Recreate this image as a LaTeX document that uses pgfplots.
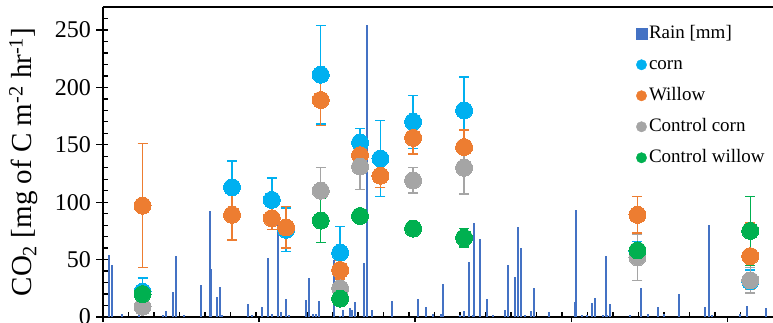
\documentclass[border=0pt]{standalone}
\usepackage{fontspec}
\setmainfont{Liberation Serif}
\usepackage{pgfplots}
\usepackage{pgfplotstable}
\pgfplotsset{compat=1.18}
\definecolor{rainc}{HTML}{4472C4}
\definecolor{cornc}{HTML}{00B0F0}
\definecolor{willc}{HTML}{ED7D31}
\definecolor{ccornc}{HTML}{A5A5A5}
\definecolor{cwillc}{HTML}{00B050}

\pgfplotstableread{
x y
1.12 54
1.76 45
3.78 2.5
7.12 2
11.76 2
12.35 5
13.78 21.4
14.31 53
15.82 1.5
19.22 27.8
21.04 92
21.27 41.4
22.35 17.4
22.94 26.5
23.24 1.5
28.43 11
29.27 1.5
31.18 8.7
32.41 51.8
33.04 3
34.37 88
34.84 4.6
35.84 16
36.47 1.5
39.80 14.7
40.39 33.6
41.24 3
41.76 3
42.41 13.9
45.2 49.5
46.47 1
47.0 6
48.37 7.5
48.76 6
49.5 13.5
51.27 47
51.82 254
52.69 6
56.7 14
61.86 16
63.27 8.6
64.76 2.5
66.37 3
66.73 29
70.0 1.5
70.69 5
71.86 48
72.49 2
72.75 82
73.92 68.3
75.29 16
76.41 1.5
78.73 6
79.35 45
80.73 35
81.31 78.4
81.9 60.5
82.75 2
83.92 5
84.51 25
87.45 4.5
92.45 13.5
92.8 93.5
93.98 1.5
94.84 1.5
95.94 12
96.51 16.2
98.1 2
98.57 53
98.82 2
99.41 11
103.33 1.5
105.39 25
106.8 2.5
108.78 8.6
109.96 3
112.84 20
118.0 8.6
118.76 79.8
119.35 2
124.86 3
126.24 10
130.0 7.5
}\raintab

\pgfplotstableread{
x y e
7.75 22 12
25.3 113 23
33.1 102 19
35.9 76 19
42.7 211 43
46.5 56 23
50.4 152 12
54.4 138 33
60.8 170 23
70.8 180 29
104.8 57 9
126.9 31 10
}\corntab

\pgfplotstableread{
x y e
7.75 97 54
25.3 89 22
33.1 86 10
35.9 78 18
42.7 189 22
46.5 41 8
50.4 141 10
54.4 123 10
60.8 156 14
70.8 148 15
104.8 89 16
126.9 53 29
}\willtab

\pgfplotstableread{
x y e
7.75 9 3
42.7 110 20
46.5 25 5
50.4 131 20
60.8 119 11
70.8 130 23
104.8 52 20
126.9 32 11
}\ccorntab

\pgfplotstableread{
x y e
7.75 20 3
42.7 84 19
46.5 16 3
50.4 88 3
60.8 77 3
70.8 69 8
104.8 58 5
126.9 75 30
}\cwilltab

\pgfplotsset{
  errstyle/.style={
    error bars/y dir=both, error bars/y explicit,
    error bars/error bar style={line width=1.4pt, #1},
    error bars/error mark options={rotate=90, mark size=5pt, line width=1.4pt, #1}},
  dotstyle/.style={color=#1, only marks, mark=*, mark size=8.5pt, mark options={fill=#1, draw=#1, line width=0pt},
    legend image code/.code={\fill[#1] (5pt,0pt) circle (5.2pt);}}
}

\begin{document}
\begin{tikzpicture}
\begin{axis}[name=ax, scale only axis, width=670pt, height=310pt,
  xmin=0, xmax=131.37, ymin=0, ymax=270,
  axis x line*=bottom, axis y line*=left,
  axis line style={-, line width=1.3pt, black},
  every tick/.style={black, line width=1.3pt},
  tick align=inside, major tick length=5.5pt,
  xtick={0,5,...,130}, xticklabels={},
  extra x ticks={0,30.6,61.2,91.8,122.4}, extra x tick labels={},
  extra x tick style={tick align=outside, major tick length=5pt},
  ytick={0,10,...,270},
  yticklabels={0,,,,,50,,,,,100,,,,,150,,,,,200,,,,,250,,},
  extra y ticks={0,50,...,250}, extra y tick labels={},
  extra y tick style={tick align=outside, major tick length=7pt},
  /pgf/number format/assume math mode=true,
  yticklabel style={font=\fontsize{24}{24}\selectfont, inner sep=0pt, xshift=-12pt},
  ylabel={CO\textsubscript{2} [mg of C m\textsuperscript{-2} hr\textsuperscript{-1}]},
  ylabel style={font=\fontsize{29}{29}\selectfont, at={(axis description cs:-0.097,0.5)}, anchor=south, inner sep=0pt},
  clip=true,
  legend style={at={(rel axis cs:0.79,0.953)}, anchor=north west, draw=none, fill=none,
    font=\fontsize{19}{19}\selectfont, row sep=11pt,
    nodes={inner sep=1.5pt, text height=13pt, text depth=4pt}},
  legend cell align=left,
]
\addplot[ycomb, rainc, line width=2pt, mark=none,
  legend image code/.code={\fill[rainc] (0pt,-5pt) rectangle (10pt,5pt);}] table[x=x,y=y] {\raintab};
\addlegendentry{Rain [mm]}
\addplot[dotstyle=cornc, errstyle=cornc] table[x=x,y=y,y error=e] {\corntab};
\addlegendentry{corn}
\addplot[dotstyle=willc, errstyle=willc] table[x=x,y=y,y error=e] {\willtab};
\addlegendentry{Willow}
\addplot[dotstyle=ccornc, errstyle=ccornc] table[x=x,y=y,y error=e] {\ccorntab};
\addlegendentry{Control corn}
\addplot[dotstyle=cwillc, errstyle=cwillc] table[x=x,y=y,y error=e] {\cwilltab};
\addlegendentry{Control willow}
\draw[black, line width=1.5pt] (rel axis cs:0,1) -- (rel axis cs:1,1);
\end{axis}
\pgfresetboundingbox
\path[use as bounding box] ([xshift=-103pt,yshift=-5pt]ax.south west) rectangle ([yshift=7pt]ax.north east);
\end{tikzpicture}
\end{document}
